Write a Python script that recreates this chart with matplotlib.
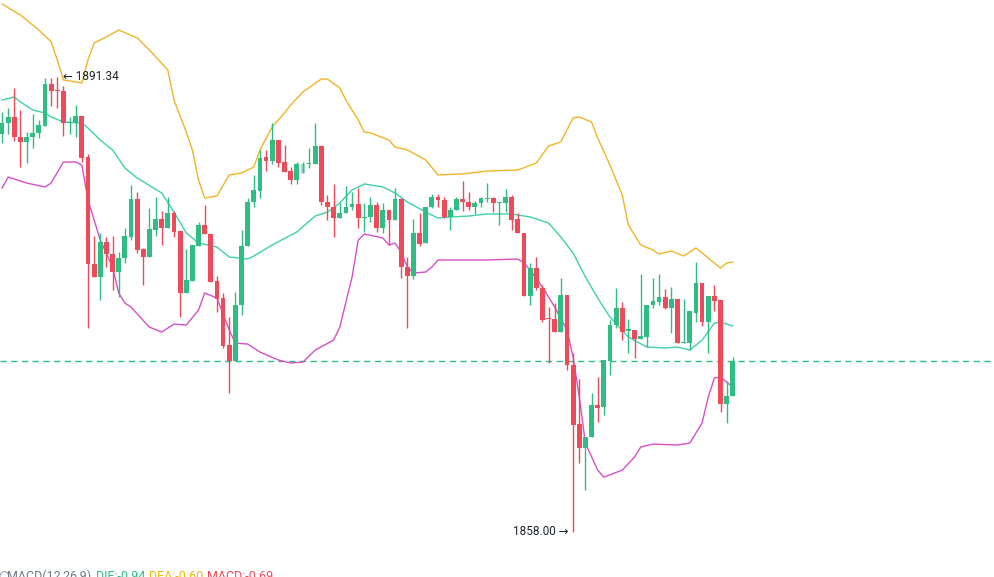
import numpy as np
import matplotlib
matplotlib.use("Agg")
import matplotlib.pyplot as plt

plt.rcParams['font.family'] = ['Roboto', 'DejaVu Sans']

# ── Dados (OHLC por vela) ──────────────────────────────────────────────────
opens = [
    1887.16, 1887.97, 1888.41, 1886.94, 1886.58, 1886.94, 1887.24, 1887.75, 1890.83, 1890.39,
    1890.31, 1887.97, 1887.97, 1888.48, 1885.48, 1877.63, 1876.68, 1879.25, 1878.37, 1877.05,
    1878.07, 1879.61, 1882.40, 1878.73, 1878.15, 1880.13, 1880.93, 1880.27, 1881.37, 1880.05,
    1875.51, 1876.39, 1878.95, 1880.49, 1879.83, 1876.39, 1875.14, 1871.70, 1870.52, 1874.63,
    1878.95, 1882.18, 1882.98, 1885.48, 1885.18, 1886.72, 1885.11, 1884.45, 1883.79, 1884.30,
    1884.96, 1884.96, 1886.28, 1882.18, 1881.81, 1881.00, 1881.37, 1881.81, 1882.03, 1881.00,
    1881.08, 1881.96, 1880.27, 1881.59, 1880.86, 1882.40, 1877.41, 1876.75, 1879.91, 1879.17,
    1881.81, 1882.54, 1882.32, 1881.08, 1881.59, 1882.40, 1882.18, 1881.81, 1882.10, 1882.40,
    1882.47, 1882.10, 1882.10, 1882.54, 1880.93, 1879.91, 1875.29, 1877.34, 1875.87, 1873.67,
    1873.60, 1872.65, 1875.36, 1870.23, 1865.90, 1864.15, 1864.95, 1867.30, 1867.15, 1870.52,
    1873.16, 1874.41, 1872.72, 1872.80, 1872.14, 1872.28, 1874.63, 1874.85, 1875.21, 1874.41,
    1875.07, 1871.84, 1871.84, 1874.04, 1876.24, 1873.38, 1875.29, 1874.99, 1867.37, 1867.96,
]
highs = [
    1888.77, 1889.07, 1890.53, 1888.92, 1887.31, 1888.63, 1888.19, 1891.27, 1891.27, 1891.34,
    1890.68, 1888.41, 1889.29, 1888.48, 1885.70, 1879.69, 1879.91, 1879.61, 1879.69, 1878.51,
    1880.27, 1883.42, 1882.91, 1878.81, 1881.74, 1882.54, 1881.52, 1882.54, 1881.52, 1880.05,
    1878.73, 1879.03, 1880.71, 1881.96, 1879.83, 1876.75, 1875.51, 1873.75, 1875.58, 1880.13,
    1882.47, 1884.16, 1885.99, 1885.99, 1887.97, 1886.72, 1886.36, 1884.74, 1885.11, 1885.11,
    1886.14, 1887.97, 1886.36, 1882.69, 1883.50, 1882.10, 1883.35, 1882.91, 1883.20, 1882.10,
    1882.54, 1882.18, 1882.10, 1881.59, 1883.20, 1882.47, 1878.15, 1880.93, 1881.37, 1881.81,
    1882.76, 1882.76, 1882.54, 1881.81, 1882.54, 1883.72, 1882.91, 1882.25, 1882.54, 1883.57,
    1882.54, 1882.18, 1883.13, 1882.69, 1881.37, 1879.91, 1877.71, 1878.15, 1876.09, 1874.48,
    1874.77, 1876.61, 1875.36, 1871.11, 1869.20, 1864.95, 1868.18, 1869.35, 1870.60, 1873.53,
    1875.87, 1874.85, 1873.60, 1872.80, 1876.90, 1874.63, 1876.61, 1876.90, 1875.80, 1875.95,
    1875.07, 1875.07, 1874.19, 1877.78, 1876.24, 1875.29, 1876.09, 1874.99, 1869.06, 1870.82,
]
lows = [
    1886.50, 1887.16, 1886.65, 1884.74, 1885.04, 1886.14, 1886.87, 1887.75, 1889.21, 1889.07,
    1887.02, 1887.16, 1886.94, 1885.11, 1872.94, 1876.68, 1874.99, 1877.41, 1875.73, 1875.21,
    1877.71, 1879.39, 1878.44, 1876.09, 1878.15, 1879.69, 1879.03, 1880.27, 1879.61, 1873.75,
    1875.51, 1876.39, 1878.95, 1879.83, 1876.31, 1874.11, 1871.48, 1868.18, 1870.52, 1873.89,
    1878.95, 1881.81, 1882.47, 1884.45, 1884.96, 1884.74, 1884.38, 1883.50, 1883.50, 1884.30,
    1884.67, 1884.96, 1881.96, 1880.86, 1879.61, 1881.00, 1881.37, 1881.59, 1880.27, 1879.98,
    1880.71, 1879.98, 1879.91, 1879.03, 1880.86, 1876.61, 1872.94, 1876.53, 1878.95, 1879.17,
    1881.74, 1881.81, 1881.00, 1880.13, 1881.59, 1881.52, 1881.59, 1881.30, 1881.81, 1882.18,
    1881.44, 1880.49, 1881.44, 1880.13, 1879.91, 1875.29, 1874.63, 1875.73, 1873.38, 1870.38,
    1872.65, 1872.65, 1869.86, 1858.00, 1863.05, 1861.07, 1864.95, 1866.05, 1866.56, 1869.50,
    1872.94, 1872.06, 1871.11, 1870.74, 1872.14, 1871.55, 1874.41, 1874.63, 1874.33, 1872.58,
    1871.84, 1871.84, 1871.33, 1873.38, 1873.09, 1871.11, 1874.19, 1866.78, 1865.98, 1867.96,
]
closes = [
    1887.97, 1888.41, 1886.94, 1886.58, 1886.94, 1887.24, 1887.82, 1890.83, 1890.31, 1890.31,
    1887.97, 1888.04, 1888.48, 1885.40, 1877.63, 1876.68, 1879.25, 1878.37, 1877.05, 1878.07,
    1879.69, 1882.40, 1878.66, 1878.15, 1880.20, 1880.93, 1880.27, 1881.37, 1879.98, 1875.51,
    1876.46, 1879.03, 1880.49, 1879.83, 1876.31, 1875.07, 1871.62, 1870.52, 1874.63, 1878.95,
    1882.18, 1883.06, 1885.40, 1885.18, 1886.72, 1885.04, 1884.38, 1883.79, 1884.96, 1884.96,
    1885.04, 1886.28, 1882.18, 1881.81, 1881.00, 1881.37, 1881.81, 1882.03, 1881.00, 1881.08,
    1881.96, 1880.27, 1881.59, 1880.86, 1882.40, 1877.41, 1876.75, 1879.91, 1879.10, 1881.81,
    1882.54, 1882.32, 1881.08, 1881.59, 1882.40, 1882.18, 1881.81, 1882.10, 1882.47, 1882.47,
    1882.10, 1882.18, 1882.54, 1880.86, 1879.91, 1875.29, 1877.34, 1875.87, 1873.53, 1873.60,
    1872.65, 1875.36, 1870.23, 1865.83, 1864.15, 1864.95, 1867.30, 1867.08, 1870.60, 1873.16,
    1874.41, 1872.65, 1872.87, 1872.14, 1872.36, 1874.63, 1874.92, 1875.21, 1874.41, 1875.07,
    1871.84, 1871.92, 1874.19, 1876.24, 1873.38, 1875.29, 1874.92, 1867.37, 1867.96, 1870.52,
]

# ── Bandas de Bollinger (por índice de vela) ───────────────────────────────
upper_idx = [0, 3, 6, 8, 9, 10, 13, 14, 15, 17, 19, 22, 24, 27, 28, 30, 31, 32, 33, 35,
             37, 39, 41, 42, 44, 46, 47, 49, 52, 53, 55, 56, 58, 59, 60, 63, 64, 66, 69, 71,
             75, 79, 84, 87, 89, 91, 92, 93, 94, 96, 97, 99, 101, 102, 104, 106, 107, 109, 111, 113,
             115, 117, 118, 119]
upper = [1896.69, 1895.88, 1894.78, 1893.91, 1892.59, 1891.12, 1890.90, 1892.59, 1893.83, 1894.27,
         1894.78, 1894.20, 1893.32, 1891.85, 1889.65, 1887.31, 1885.99, 1883.79, 1882.47, 1882.62,
         1884.16, 1884.30, 1884.74, 1885.99, 1887.68, 1888.70, 1889.29, 1890.24, 1891.19, 1891.19,
         1890.53, 1889.65, 1888.19, 1887.31, 1887.24, 1886.72, 1886.21, 1885.99, 1885.26, 1884.16,
         1884.23, 1884.45, 1884.52, 1885.04, 1886.28, 1886.58, 1887.46, 1888.34, 1888.41, 1888.04,
         1886.87, 1884.89, 1882.69, 1880.49, 1879.03, 1878.66, 1878.37, 1878.59, 1878.22, 1878.81,
         1878.07, 1877.34, 1877.71, 1877.78]

mid_idx = [0, 2, 3, 5, 7, 8, 10, 13, 14, 16, 18, 20, 22, 26, 28, 30, 32, 35, 37, 40,
           41, 44, 48, 51, 53, 55, 57, 59, 62, 64, 66, 69, 71, 73, 76, 79, 83, 86, 89, 91,
           93, 95, 97, 99, 102, 105, 108, 110, 112, 114, 116, 117, 119]
mid = [1889.65, 1889.87, 1889.51, 1888.92, 1888.70, 1888.41, 1888.04, 1887.97, 1887.60, 1886.72,
       1885.99, 1884.67, 1883.94, 1882.84, 1881.44, 1879.91, 1879.17, 1878.88, 1878.15, 1878.00,
       1878.22, 1879.03, 1879.98, 1881.15, 1881.44, 1882.10, 1883.06, 1883.50, 1883.28, 1882.84,
       1882.18, 1881.44, 1881.00, 1881.08, 1881.15, 1881.30, 1881.30, 1881.08, 1880.64, 1879.61,
       1878.44, 1876.68, 1875.14, 1873.75, 1872.28, 1871.55, 1871.48, 1871.55, 1871.33, 1872.06,
       1873.31, 1873.38, 1873.09]

lower_idx = [0, 1, 4, 7, 8, 10, 12, 13, 14, 16, 18, 19, 20, 21, 24, 26, 28, 30, 32, 33,
             35, 37, 38, 40, 42, 45, 47, 49, 51, 54, 55, 57, 58, 59, 62, 63, 64, 65, 66, 67,
             69, 70, 71, 79, 84, 85, 86, 88, 90, 92, 93, 94, 95, 97, 98, 101, 103, 104, 106, 110,
             112, 114, 115, 116, 117, 118, 119]
lower = [1883.20, 1884.01, 1883.57, 1883.28, 1883.57, 1885.11, 1885.11, 1884.89, 1882.32, 1879.39,
         1877.41, 1875.51, 1874.77, 1874.48, 1873.01, 1872.65, 1873.23, 1873.16, 1874.26, 1875.51,
         1875.14, 1872.79, 1871.84, 1871.77, 1871.18, 1870.60, 1870.38, 1870.45, 1871.33, 1872.06,
         1873.01, 1876.68, 1879.39, 1879.83, 1879.54, 1879.03, 1879.17, 1878.51, 1877.41, 1876.97,
         1877.05, 1877.41, 1877.93, 1877.93, 1878.00, 1877.71, 1877.19, 1875.95, 1874.48, 1872.79,
         1870.82, 1867.88, 1864.51, 1862.53, 1862.02, 1862.53, 1863.49, 1864.22, 1864.44, 1864.37,
         1864.51, 1865.98, 1867.88, 1869.28, 1869.35, 1868.98, 1868.62]

macd_labels = ["MACD(12,26,9)", "DIF:-0.94", "DEA:-0.60", "MACD:-0.69"]

# ── Estilo ────────────────────────────────────────────────────────────────
VERDE    = "#2EBD85"
VERMELHO = "#EF4A5A"
AMARELO  = "#F0B429"
MEIO     = "#3FD0AC"
ROSA     = "#D64FC6"
TEXTO    = "#1E2329"

o = np.array(opens)
h = np.array(highs)
l = np.array(lows)
c = np.array(closes)
idx = np.arange(len(o))
sobe = c >= o
cores = np.where(sobe, VERDE, VERMELHO)

fig = plt.figure(figsize=(9.95, 5.77), dpi=100)
ax = fig.add_axes([0, 0, 1, 1])
ax.set_xlim(-0.33, 161.7)
ax.set_ylim(1854.70, 1896.98)
ax.axis("off")

# bandas
ax.plot(upper_idx, upper, color=AMARELO, lw=1.0, zorder=1)
ax.plot(mid_idx, mid, color=MEIO, lw=1.0, zorder=1)
ax.plot(lower_idx, lower, color=ROSA, lw=1.0, zorder=1)

# velas
ax.vlines(idx, l, h, colors=cores, lw=1.0, zorder=2)
corpo = np.maximum(np.abs(c - o), 0.08)
barras = ax.bar(idx, corpo, bottom=np.minimum(o, c), width=0.78, color=cores,
                linewidth=0, zorder=3)
barras[49].set_alpha(0.45)

# linha do último preço
ax.axhline(closes[-1], color=VERDE, lw=1.0, ls=(0, (4.5, 3.2)), zorder=0)

# máxima / mínima
i_max = int(np.argmax(h))
i_min = int(np.argmin(l))
ax.annotate(f"\u2190 {h[i_max]:.2f}", (i_max, h[i_max]), xytext=(4, 0),
            textcoords="offset points", va="center", ha="left",
            fontsize=8.5, color=TEXTO)
ax.annotate(f"{l[i_min]:.2f} \u2192", (i_min, l[i_min]), xytext=(-3, 0),
            textcoords="offset points", va="center", ha="right",
            fontsize=8.5, color=TEXTO)

# legenda MACD (cortada na base, como no original)
fig.text(-0.002, -0.005, "\u25cb", fontsize=9, color="#707A8A", va="baseline")
pos_x = [7, 96, 149, 207]
cores_txt = ["#707A8A", "#2EBD85", "#F0B90B", "#EF4A5A"]
for px, txt, cor in zip(pos_x, macd_labels, cores_txt):
    fig.text(px / 995, -0.005, txt, fontsize=9, color=cor, va="baseline")

fig.savefig("out.png", dpi=100)
